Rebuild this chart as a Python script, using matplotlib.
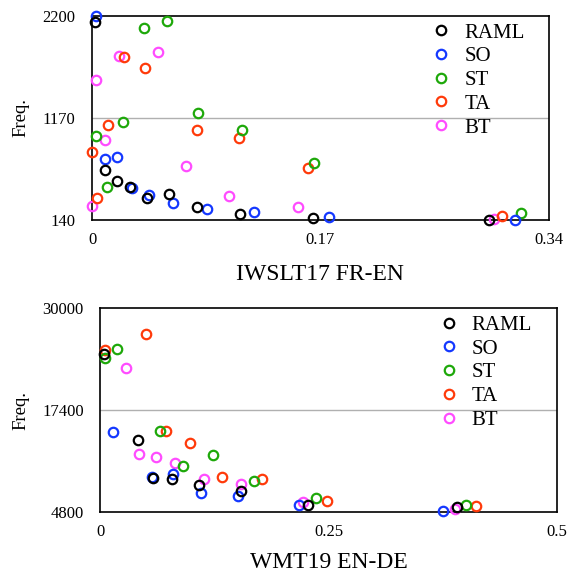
import matplotlib
matplotlib.use("Agg")
import matplotlib.pyplot as plt

plt.rcParams['font.family'] = ['Liberation Serif', 'DejaVu Serif']

methods = ['RAML', 'SO', 'ST', 'TA', 'BT']
colors = {'RAML': 'black', 'SO': '#1438ff', 'ST': '#1ea80a', 'TA': '#ff3a0a', 'BT': '#ff4cff'}

# IWSLT17 FR-EN
iwslt_x = {
    'RAML': [0.0022, 0.0097, 0.0188, 0.0283, 0.0407, 0.0573, 0.0784, 0.110, 0.1647, 0.2957],
    'SO':   [0.0027, 0.0097, 0.0184, 0.0295, 0.0424, 0.060, 0.0853, 0.1208, 0.1766, 0.3152],
    'ST':   [0.0032, 0.0109, 0.0233, 0.0385, 0.056, 0.0791, 0.1118, 0.165, 0.3194],
    'TA':   [0.0002, 0.0035, 0.0121, 0.0238, 0.0397, 0.0781, 0.1094, 0.1605, 0.305],
    'BT':   [0.0027, 0.0, 0.0094, 0.0201, 0.049, 0.0697, 0.1017, 0.1535, 0.2993],
}
iwslt_y = {
    'RAML': [2136, 648, 534, 476, 362, 399, 271, 200, 157, 143],
    'SO':   [2200, 753, 773, 466, 392, 314, 251, 220, 170, 137],
    'ST':   [991, 470, 1130, 2082, 2150, 1220, 1052, 716, 210],
    'TA':   [823, 365, 1096, 1789, 1672, 1046, 968, 668, 177],
    'BT':   [1554, 284, 948, 1793, 1836, 682, 385, 268, 150],
}

# WMT19 EN-DE
wmt_x = {
    'RAML': [0.0037, 0.041, 0.0577, 0.0785, 0.1085, 0.154, 0.2272, 0.3904],
    'SO':   [0.0139, 0.057, 0.0797, 0.1107, 0.1509, 0.2173, 0.3751],
    'ST':   [0.0055, 0.0183, 0.0657, 0.0909, 0.1235, 0.1684, 0.236, 0.401],
    'TA':   [0.0051, 0.0497, 0.0723, 0.0983, 0.133, 0.1775, 0.248, 0.412],
    'BT':   [0.0278, 0.0421, 0.0607, 0.0822, 0.1136, 0.154, 0.222, 0.3886],
}
wmt_y = {
    'RAML': [24384, 13672, 9046, 8847, 8142, 7400, 5668, 5422],
    'SO':   [14698, 9169, 9503, 7153, 6745, 5630, 4926],
    'ST':   [23890, 24966, 14822, 10455, 11853, 8637, 6497, 5630],
    'TA':   [24879, 26858, 14785, 13338, 9095, 8922, 6126, 5581],
    'BT':   [22615, 12014, 11642, 10826, 8883, 8265, 6002, 5174],
}

panels = [
    (iwslt_x, iwslt_y, [0, 0.17, 0.34], ['0', '0.17', '0.34'], [140, 1170, 2200], 'IWSLT17 FR-EN',
     [0.162, 0.6174, 0.804, 0.3548], 0.742, 0.966, 11),
    (wmt_x, wmt_y, [0, 0.25, 0.5], ['0', '0.25', '0.5'], [4800, 17400, 30000], 'WMT19 EN-DE',
     [0.1766, 0.1096, 0.8034, 0.3542], 0.741, 0.966, 8),
]

fig = plt.figure(figsize=(5.68, 5.75), dpi=100)

for xs, ys, xt, xtl, yt, title, rect, lx, ly, lpad in panels:
    ax = fig.add_axes(rect)
    # draw in reverse so RAML ends up on top
    for i, m in enumerate(reversed(methods)):
        ax.plot(xs[m], ys[m], 'o', mfc='none', mec=colors[m], ms=6.8, mew=1.6,
                clip_on=False, zorder=3 + i)
    ax.set_xlim(xt[0], xt[-1])
    ax.set_ylim(yt[0], yt[-1])
    ax.set_xticks(xt)
    ax.set_xticklabels(xtl)
    ax.set_yticks(yt)
    ax.axhline(yt[1], color='#b0b0b0', lw=1, zorder=1)
    ax.tick_params(length=0, labelsize=12)
    ax.tick_params(axis='x', pad=9)
    ax.tick_params(axis='y', pad=12)
    for s in ax.spines.values():
        s.set_linewidth(1.2)
    ax.set_ylabel('Freq.', fontsize=13.5, labelpad=9)
    ax.set_xlabel(title, fontsize=17, labelpad=lpad)
    handles = [plt.Line2D([], [], ls='none', marker='o', mfc='none', mec=colors[m], ms=6.8, mew=1.6)
               for m in methods]
    ax.legend(handles, methods, loc='upper left', bbox_to_anchor=(lx, ly), frameon=False,
              fontsize=15, handlelength=1.0, handletextpad=0.6, labelspacing=0.2,
              borderpad=0, borderaxespad=0, numpoints=1)

fig.savefig('out.png', dpi=100)
